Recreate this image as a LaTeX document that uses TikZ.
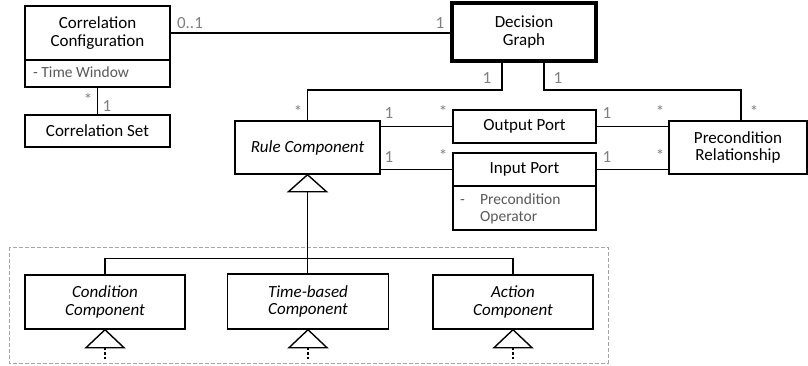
\documentclass[tikz,border=0pt]{standalone}
\usepackage{fontspec}
\setmainfont{Carlito}
\definecolor{labgray}{HTML}{7F7F7F}
\definecolor{attrgray}{HTML}{595959}
\definecolor{framegray}{HTML}{A6A6A6}
\begin{document}
\begin{tikzpicture}[x=1pt,y=-1pt,
  box/.style={draw, line width=1.4pt, inner sep=0pt, align=center, fill=white,
    font=\fontsize{17}{17.5}\selectfont},
  ibox/.style={box, font=\fontsize{17}{17.5}\selectfont\itshape},
  mult/.style={text=labgray, font=\fontsize{17}{17}\selectfont, inner sep=0pt, anchor=base},
  attr/.style={text=attrgray, font=\fontsize{15.5}{17}\selectfont, inner sep=0pt, anchor=base west},
  conn/.style={line width=1.4pt},
  gen/.style={line width=1.4pt, fill=white},
  realiz/.style={line width=1.4pt, dash pattern=on 2.5pt off 2pt}]
\useasboundingbox (0,0) rectangle (808,365);

% package frame
\draw[framegray, line width=1pt, dash pattern=on 4pt off 2pt] (9,247) rectangle (608,363);

% classes
\node[box, minimum width=145, minimum height=54] (cc) at (97.5,33) {Correlation\\Configuration};
\node[box, minimum width=145, minimum height=27] (ccattr) at (97.5,73.5) {};
\node[attr] (ccattrtext) at (33,77.5) {- Time Window};
\node[box, minimum width=145, minimum height=32] (cs) at (97.5,131) {Correlation Set};
\node[box, line width=4pt, minimum width=144, minimum height=58] (dg) at (524,32) {Decision\\Graph};
\node[ibox, minimum width=145, minimum height=53] (rc) at (307.5,147.5) {Rule Component};
\node[box, minimum width=143, minimum height=33] (op) at (524.5,126.5) {Output Port};
\node[box, minimum width=143, minimum height=33] (ip) at (524.5,169.5) {Input Port};
\node[box, minimum width=143, minimum height=44] (ipattr) at (524.5,208) {};
\node[attr] (ipdash) at (460,204) {-};
\node[attr] (ipa1) at (480,204) {Precondition};
\node[attr] (ipa2) at (480,221) {Operator};
\node[box, minimum width=138, minimum height=53] (pr) at (738,147.5) {Precondition\\Relationship};
\node[ibox, minimum width=160, minimum height=54] (cond) at (105,302) {Condition\\Component};
\node[ibox, minimum width=161, minimum height=55] (tb) at (308,301.5) {Time-based\\Component};
\node[ibox, minimum width=160, minimum height=54] (act) at (513,302) {Action\\Component};

% associations
\draw[conn] (cc.east) -- (cc.east -| dg.west);
\draw[conn] (ccattr.south) -- (cs.north);
\draw[conn] ([xshift=-22pt]dg.south) -- ++(0,27) -| (rc.north);
\draw[conn] ([xshift=20pt]dg.south) -- ++(0,27) -| ([xshift=3pt]pr.north);
\draw[conn] (op.west -| rc.east) -- (op.west);
\draw[conn] (ip.west -| rc.east) -- (ip.west);
\draw[conn] (op.east) -- (op.east -| pr.west);
\draw[conn] (ip.east) -- (ip.east -| pr.west);

% generalization
\draw[conn] (rc.south) ++(0,17) coordinate (rcbase) -- (rcbase |- tb.north);
\draw[conn] (cond.north) -- ++(0,-16) -| (act.north);
\draw[gen] (rc.south) -- ++(-19,17) -- ++(38,0) -- cycle;

% realizations below children
\foreach \c in {cond,tb,act}{
  \draw[gen] (\c.south) -- ++(-19,18) -- ++(38,0) -- cycle;
  \draw[realiz] ([yshift=-18pt]\c.south) -- ++(0,13);
}

% multiplicities
\node[mult] (m01) at (190,28.5) {0..1};
\node[mult] (m02) at (440,28.5) {1};
\node[mult] (m03) at (88,105.5) {*};
\node[mult] (m04) at (107,111.5) {1};
\node[mult] (m05) at (487,83.5) {1};
\node[mult] (m06) at (558,83.5) {1};
\node[mult] (m07) at (298,117.5) {*};
\node[mult] (m08) at (754,117.5) {*};
\node[mult] (m09) at (389,118.5) {1};
\node[mult] (m10) at (443,117.5) {*};
\node[mult] (m11) at (389,162.5) {1};
\node[mult] (m12) at (443,161.5) {*};
\node[mult] (m13) at (607,118.5) {1};
\node[mult] (m14) at (660,117.5) {*};
\node[mult] (m15) at (607,162.5) {1};
\node[mult] (m16) at (660,161.5) {*};
\end{tikzpicture}
\end{document}
